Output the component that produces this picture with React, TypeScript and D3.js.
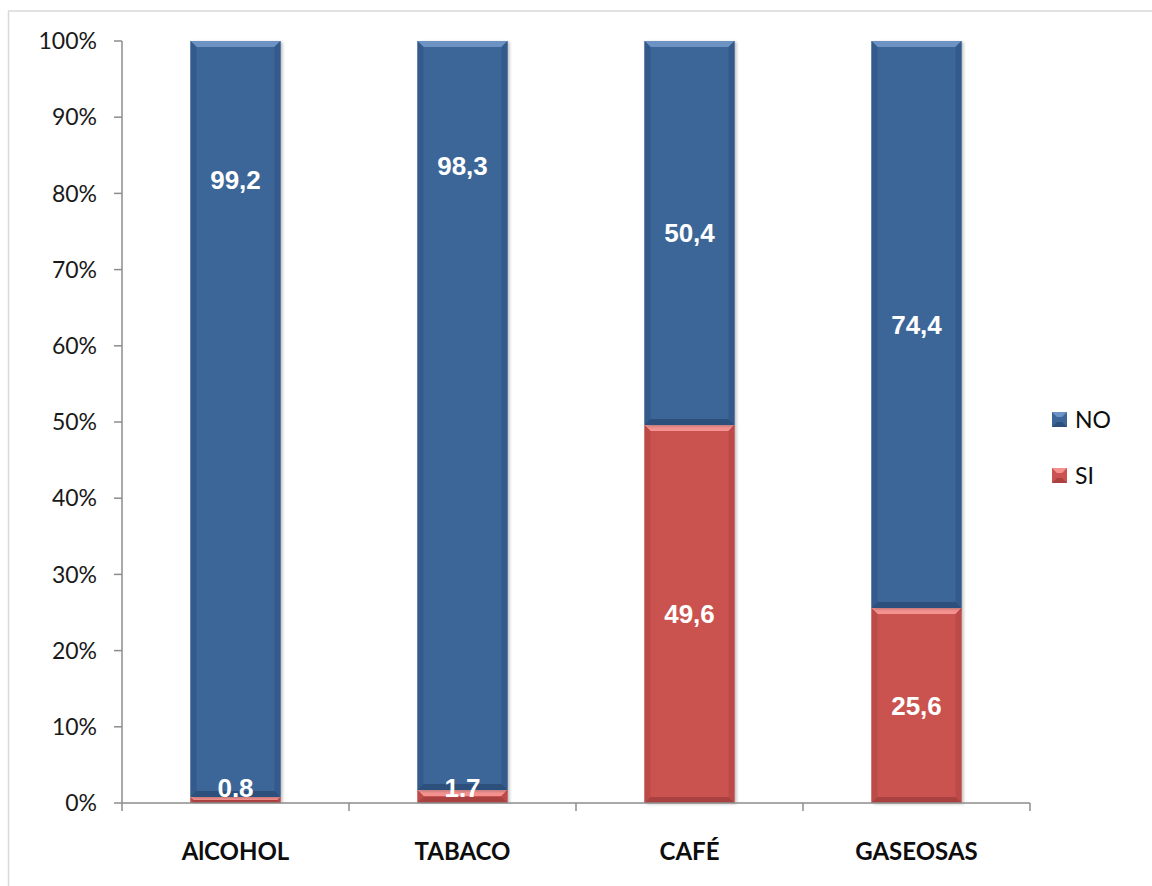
import React from "react";
import * as d3 from "d3";

// Consumption survey: share of respondents answering NO / SI per product
const categories = ["AlCOHOL", "TABACO", "CAFÉ", "GASEOSAS"];
const siValues = [0.8, 1.7, 49.6, 25.6];
const noValues = [99.2, 98.3, 50.4, 74.4];
const siLabels = ["0.8", "1.7", "49,6", "25,6"];
const noLabels = ["99,2", "98,3", "50,4", "74,4"];
// Where the value label sits (in % units); null = middle of its segment
const siLabelAt: (number | null)[] = [2.0, 2.0, null, null];
const noLabelAt: (number | null)[] = [81.8, 83.7, null, null];
const yTicks = [0, 10, 20, 30, 40, 50, 60, 70, 80, 90, 100];

const W = 1152;
const H = 886;
const left = 122;
const right = 1030;
const top = 41;
const bottom = 803;

const palette = {
  NO: { base: "#3d6698", light: "#6d92c4", dark: "#2c4f7c", side: "#335a8a" },
  SI: { base: "#cb5250", light: "#f49290", dark: "#a8413f", side: "#bb4a48" },
};

type Seg = { key: "NO" | "SI"; x: number; w: number; y0: number; y1: number };

function BevelRect({ seg }: { seg: Seg }) {
  const c = palette[seg.key];
  const { x, w } = seg;
  const yT = seg.y1;
  const yB = seg.y0;
  const h = yB - yT;
  const b = Math.min(6, h / 2, w / 2);
  const pts = (arr: number[][]) => arr.map((p) => p.join(",")).join(" ");
  return (
    <g>
      <rect x={x} y={yT} width={w} height={h} fill={c.base} filter="url(#barShadow)" />
      {/* top bevel */}
      <polygon points={pts([[x, yT], [x + w, yT], [x + w - b, yT + b], [x + b, yT + b]])} fill={c.light} />
      {/* left bevel */}
      <polygon points={pts([[x, yT], [x + b, yT + b], [x + b, yB - b], [x, yB]])} fill={c.side} />
      {/* right bevel */}
      <polygon points={pts([[x + w, yT], [x + w, yB], [x + w - b, yB - b], [x + w - b, yT + b]])} fill={c.side} />
      {/* bottom bevel */}
      <polygon points={pts([[x, yB], [x + b, yB - b], [x + w - b, yB - b], [x + w, yB]])} fill={c.dark} />
    </g>
  );
}

export default function App() {
  const x = d3.scaleBand<string>().domain(categories).range([left, right]).paddingInner(0).paddingOuter(0);
  const y = d3.scaleLinear().domain([0, 100]).range([bottom, top]);
  const barW = 90;

  const segs: Seg[] = [];
  categories.forEach((cat, i) => {
    const cx = (x(cat) as number) + x.bandwidth() / 2;
    const bx = cx - barW / 2;
    segs.push({ key: "SI", x: bx, w: barW, y0: y(0), y1: y(siValues[i]) });
    segs.push({ key: "NO", x: bx, w: barW, y0: y(siValues[i]), y1: y(siValues[i] + noValues[i]) });
  });

  const boundaries = [...categories.map((c) => x(c) as number), right];

  return (
    <svg width={W} height={H} style={{ position: "absolute", left: 0, top: 0, background: "#fff" }}>
      <defs>
        <filter id="barShadow" x="-20%" y="-5%" width="140%" height="110%">
          <feDropShadow dx="2" dy="1" stdDeviation="1.5" floodColor="#000" floodOpacity="0.25" />
        </filter>
      </defs>
      {/* chart frame */}
      <line x1={8.5} y1={11} x2={8.5} y2={H} stroke="#d9d9d9" strokeWidth={1.5} />
      <line x1={8} y1={11} x2={W} y2={11} stroke="#d9d9d9" strokeWidth={1.5} />

      {/* y axis */}
      <line x1={left} x2={left} y1={top} y2={bottom} stroke="#8c8c8c" strokeWidth={1.5} />
      {yTicks.map((t) => (
        <g key={t}>
          <line x1={left - 8} x2={left} y1={y(t)} y2={y(t)} stroke="#8c8c8c" strokeWidth={1.5} />
          <text
            x={97}
            y={y(t)}
            dy="0.36em"
            textAnchor="end"
            fontFamily="Lato, 'Open Sans', sans-serif"
            fontSize={23}
            fill="#1a1a1a"
          >
            {t}%
          </text>
        </g>
      ))}

      {/* bars */}
      {segs.map((s, i) => (
        <BevelRect key={i} seg={s} />
      ))}

      {/* x axis */}
      <line x1={left} x2={right} y1={bottom} y2={bottom} stroke="#8c8c8c" strokeWidth={1.5} />
      {boundaries.map((bx, i) => (
        <line key={i} x1={bx} x2={bx} y1={bottom} y2={bottom + 8} stroke="#8c8c8c" strokeWidth={1.5} />
      ))}
      {categories.map((c) => (
        <text
          key={c}
          x={(x(c) as number) + x.bandwidth() / 2}
          y={860}
          textAnchor="middle"
          fontFamily="Lato, 'Open Sans', sans-serif"
          fontWeight="bold"
          fontSize={24}
          fill="#0d0d0d"
        >
          {c}
        </text>
      ))}

      {/* value labels */}
      {categories.map((c, i) => {
        const cx = (x(c) as number) + x.bandwidth() / 2;
        const siY = siLabelAt[i] ?? siValues[i] / 2;
        const noY = noLabelAt[i] ?? siValues[i] + noValues[i] / 2;
        const style = {
          fontFamily: "'Liberation Sans', Arial, sans-serif",
          fontWeight: "bold" as const,
          fontSize: 26,
          fill: "#fff",
        };
        return (
          <g key={c}>
            <text x={cx} y={y(noY)} dy="0.36em" textAnchor="middle" {...style}>
              {noLabels[i]}
            </text>
            <text x={cx} y={y(siY)} dy="0.36em" textAnchor="middle" {...style}>
              {siLabels[i]}
            </text>
          </g>
        );
      })}

      {/* legend */}
      {(["NO", "SI"] as const).map((k, i) => {
        const ly = 412 + i * 56;
        const c = palette[k];
        return (
          <g key={k}>
            <rect x={1052} y={ly} width={15} height={15} fill={c.base} />
            <polygon points={`1052,${ly} 1067,${ly} 1062,${ly + 5} 1057,${ly + 5}`} fill={c.light} />
            <polygon points={`1052,${ly + 15} 1057,${ly + 10} 1062,${ly + 10} 1067,${ly + 15}`} fill={c.dark} />
            <text
              x={1075}
              y={ly + 8}
              dy="0.36em"
              fontFamily="Lato, 'Open Sans', sans-serif"
              fontSize={23}
              fill="#0d0d0d"
            >
              {k}
            </text>
          </g>
        );
      })}
    </svg>
  );
}
